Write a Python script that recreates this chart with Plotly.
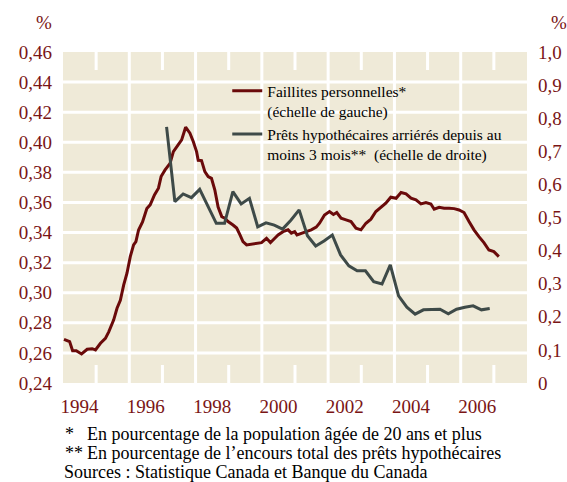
import plotly.graph_objects as go

# ---- data ----
red_x = [1994.03, 1994.20, 1994.29, 1994.40, 1994.56, 1994.73, 1994.88, 1994.98,
         1995.13, 1995.28, 1995.38, 1995.53, 1995.63, 1995.73, 1995.83, 1995.93,
         1996.03, 1996.13, 1996.20, 1996.28, 1996.40, 1996.53, 1996.63, 1996.76,
         1996.88, 1996.96, 1997.08, 1997.23, 1997.33, 1997.48, 1997.58, 1997.70,
         1997.83, 1997.93, 1998.03, 1998.08, 1998.18, 1998.28, 1998.38, 1998.48,
         1998.58, 1998.68, 1998.79, 1998.88, 1998.98, 1999.13, 1999.24, 1999.34,
         1999.43, 1999.54, 1999.69, 1999.84, 1999.99, 2000.14, 2000.26, 2000.39,
         2000.49, 2000.64, 2000.79, 2000.89, 2000.99, 2001.06, 2001.19, 2001.34,
         2001.49, 2001.64, 2001.74, 2001.89, 2002.04, 2002.16, 2002.26, 2002.39,
         2002.54, 2002.69, 2002.84, 2002.99, 2003.14, 2003.29, 2003.44, 2003.59,
         2003.74, 2003.89, 2004.05, 2004.20, 2004.35, 2004.50, 2004.65, 2004.80,
         2004.95, 2005.10, 2005.20, 2005.35, 2005.50, 2005.65, 2005.80, 2005.95,
         2006.10, 2006.25, 2006.40, 2006.55, 2006.70, 2006.85, 2007.00, 2007.15]
red_y = [0.2690, 0.2675, 0.2615, 0.2615, 0.2593, 0.2624, 0.2628, 0.2620,
         0.2664, 0.2697, 0.2740, 0.2820, 0.2897, 0.2950, 0.3050, 0.3130,
         0.3240, 0.3318, 0.3340, 0.3417, 0.3470, 0.3560, 0.3584, 0.3650,
         0.3695, 0.3772, 0.3816, 0.3860, 0.3938, 0.3980, 0.4016, 0.4100,
         0.4060, 0.4005, 0.3938, 0.3880, 0.3878, 0.3805, 0.3772, 0.3760,
         0.3684, 0.3570, 0.3506, 0.3495, 0.3473, 0.3450, 0.3430, 0.3384,
         0.3340, 0.3318, 0.3324, 0.3329, 0.3333, 0.3362, 0.3333, 0.3362,
         0.3384, 0.3406, 0.3418, 0.3396, 0.3406, 0.3384, 0.3396, 0.3406,
         0.3418, 0.3436, 0.3462, 0.3517, 0.3540, 0.3520, 0.3533, 0.3495,
         0.3484, 0.3473, 0.3429, 0.3418, 0.3462, 0.3489, 0.3540, 0.3568,
         0.3595, 0.3635, 0.3628, 0.3666, 0.3657, 0.3628, 0.3617, 0.3590,
         0.3599, 0.3590, 0.3555, 0.3568, 0.3562, 0.3562, 0.3559, 0.3550,
         0.3533, 0.3473, 0.3418, 0.3373, 0.3333, 0.3284, 0.3273, 0.3240]

gray_x = [1997.125, 1997.375, 1997.625, 1997.875, 1998.125, 1998.375, 1998.625, 1998.875,
          1999.125, 1999.375, 1999.625, 1999.875, 2000.125, 2000.375, 2000.625, 2000.875,
          2001.125, 2001.375, 2001.625, 2001.875, 2002.125, 2002.375, 2002.625, 2002.875,
          2003.125, 2003.375, 2003.625, 2003.875, 2004.125, 2004.375, 2004.625, 2004.875,
          2005.125, 2005.375, 2005.625, 2005.875, 2006.125, 2006.375, 2006.625, 2006.875]
gray_y = [0.774, 0.548, 0.571, 0.560, 0.585, 0.533, 0.4825, 0.4825,
          0.578, 0.541, 0.558, 0.472, 0.484, 0.477, 0.465, 0.492,
          0.523, 0.445, 0.414, 0.429, 0.447, 0.387, 0.354, 0.339,
          0.339, 0.306, 0.299, 0.357, 0.263, 0.229, 0.208, 0.221,
          0.221, 0.223, 0.209, 0.223, 0.229, 0.233, 0.221, 0.225]

year_label_pos = [1994.5, 1996.5, 1998.5, 2000.5, 2002.5, 2004.5, 2006.5]
year_labels = ["1994", "1996", "1998", "2000", "2002", "2004", "2006"]
year_grid = [1996, 1998, 2000, 2002, 2004, 2006]
odd_years = [1995, 1997, 1999, 2001, 2003, 2005, 2007]
x_range = [1994, 2008]

left_vals = [0.24, 0.26, 0.28, 0.30, 0.32, 0.34, 0.36, 0.38, 0.40, 0.42, 0.44, 0.46]
left_text = ["0,24", "0,26", "0,28", "0,30", "0,32", "0,34", "0,36", "0,38",
             "0,40", "0,42", "0,44", "0,46"]
left_grid = [0.26, 0.28, 0.30, 0.32, 0.34, 0.36, 0.38, 0.40, 0.42, 0.44]
left_range = [0.24, 0.46]
right_vals = [0, 0.1, 0.2, 0.3, 0.4, 0.5, 0.6, 0.7, 0.8, 0.9, 1.0]
right_text = ["0", "0,1", "0,2", "0,3", "0,4", "0,5", "0,6", "0,7", "0,8", "0,9", "1,0"]
right_range = [0, 1]

name_red = "Faillites personnelles*<br>(échelle de gauche)"
name_gray = "Prêts hypothécaires arriérés depuis au<br>moins 3 mois**  (échelle de droite)"

notes = [("*", "En pourcentage de la population âgée de 20 ans et plus"),
         ("**", "En pourcentage de l\u2019encours total des prêts hypothécaires")]
source = "Sources : Statistique Canada et Banque du Canada"

# ---- style ----
FONT = "Liberation Serif"
LBL = "#7A1515"
RED = "#6A0A0A"
GRAY = "#3E4A48"
BG = "#EFEAD8"

fig = go.Figure()
fig.add_trace(go.Scatter(x=red_x, y=red_y, mode="lines", name=name_red,
                         line=dict(color=RED, width=3), xaxis="x", yaxis="y"))
fig.add_trace(go.Scatter(x=gray_x, y=gray_y, mode="lines", name=name_gray,
                         line=dict(color=GRAY, width=3), xaxis="x", yaxis="y2"))

tick_font = dict(family=FONT, size=19, color=LBL)

fig.update_layout(
    width=567, height=482,
    margin=dict(l=63, r=40, t=52, b=99, autoexpand=False),
    paper_bgcolor="white", plot_bgcolor=BG,
    font=dict(family=FONT, color="black"),
    showlegend=True,
    legend=dict(x=0.354, y=0.933, xanchor="left", yanchor="top",
                bgcolor="rgba(0,0,0,0)", font=dict(family=FONT, size=15.5, color="black"),
                valign="top", tracegroupgap=0),
    xaxis=dict(range=x_range, tickmode="array", tickvals=year_label_pos,
               ticktext=year_labels, ticks="", tickfont=tick_font,
               ticklabelstandoff=10, showgrid=False, zeroline=False,
               showline=False, automargin=False),
    yaxis=dict(range=left_range, tickmode="array", tickvals=left_vals,
               ticktext=left_text, ticks="", tickfont=tick_font,
               ticklabelstandoff=10, showgrid=False, zeroline=False,
               showline=False, automargin=False),
    yaxis2=dict(range=right_range, overlaying="y", side="right", anchor="x",
                tickmode="array", tickvals=right_vals, ticktext=right_text, ticks="",
                tickfont=tick_font, ticklabelstandoff=10, showgrid=False,
                zeroline=False, showline=False, automargin=False),
)

# white grid: vertical lines at even years, horizontal at inner left ticks
for yr in year_grid:
    fig.add_shape(type="line", xref="x", yref="paper", x0=yr, x1=yr, y0=0, y1=1,
                  line=dict(color="white", width=3), layer="below")
for v in left_grid:
    fig.add_shape(type="line", xref="paper", yref="y", x0=0, x1=1, y0=v, y1=v,
                  line=dict(color="white", width=3), layer="below")
# short white ticks at odd years, bottom and top edges (18 px)
for yr in odd_years:
    fig.add_shape(type="line", xref="x", yref="paper", ysizemode="pixel", yanchor=0,
                  x0=yr, x1=yr, y0=0, y1=18, line=dict(color="white", width=3),
                  layer="below")
    fig.add_shape(type="line", xref="x", yref="paper", ysizemode="pixel", yanchor=1,
                  x0=yr, x1=yr, y0=0, y1=-18, line=dict(color="white", width=3),
                  layer="below")

# "%" unit labels
for xx in (-0.042, 1.068):
    fig.add_annotation(text="%", xref="paper", yref="paper", x=xx, y=1.09,
                       showarrow=False, font=dict(family=FONT, size=19, color=LBL),
                       xanchor="center", yanchor="middle")

# footnotes
FN = 18
note_y = [-0.153, -0.2115]
for (mark, txt), yy in zip(notes, note_y):
    fig.add_annotation(text=mark, xref="paper", yref="paper", x=0.003, y=yy,
                       showarrow=False, xanchor="left", yanchor="middle", borderpad=0,
                       font=dict(family=FONT, size=FN, color="black"))
    fig.add_annotation(text=txt, xref="paper", yref="paper", x=0.05, y=yy,
                       showarrow=False, xanchor="left", yanchor="middle", borderpad=0,
                       font=dict(family=FONT, size=FN, color="black"))
fig.add_annotation(text=source, xref="paper", yref="paper", x=0.0, y=-0.270,
                   showarrow=False, xanchor="left", yanchor="middle", borderpad=0,
                   font=dict(family=FONT, size=FN, color="black"))

fig.write_html("out.html", config={"displayModeBar": False},
               post_script="document.body.style.margin='0';")
